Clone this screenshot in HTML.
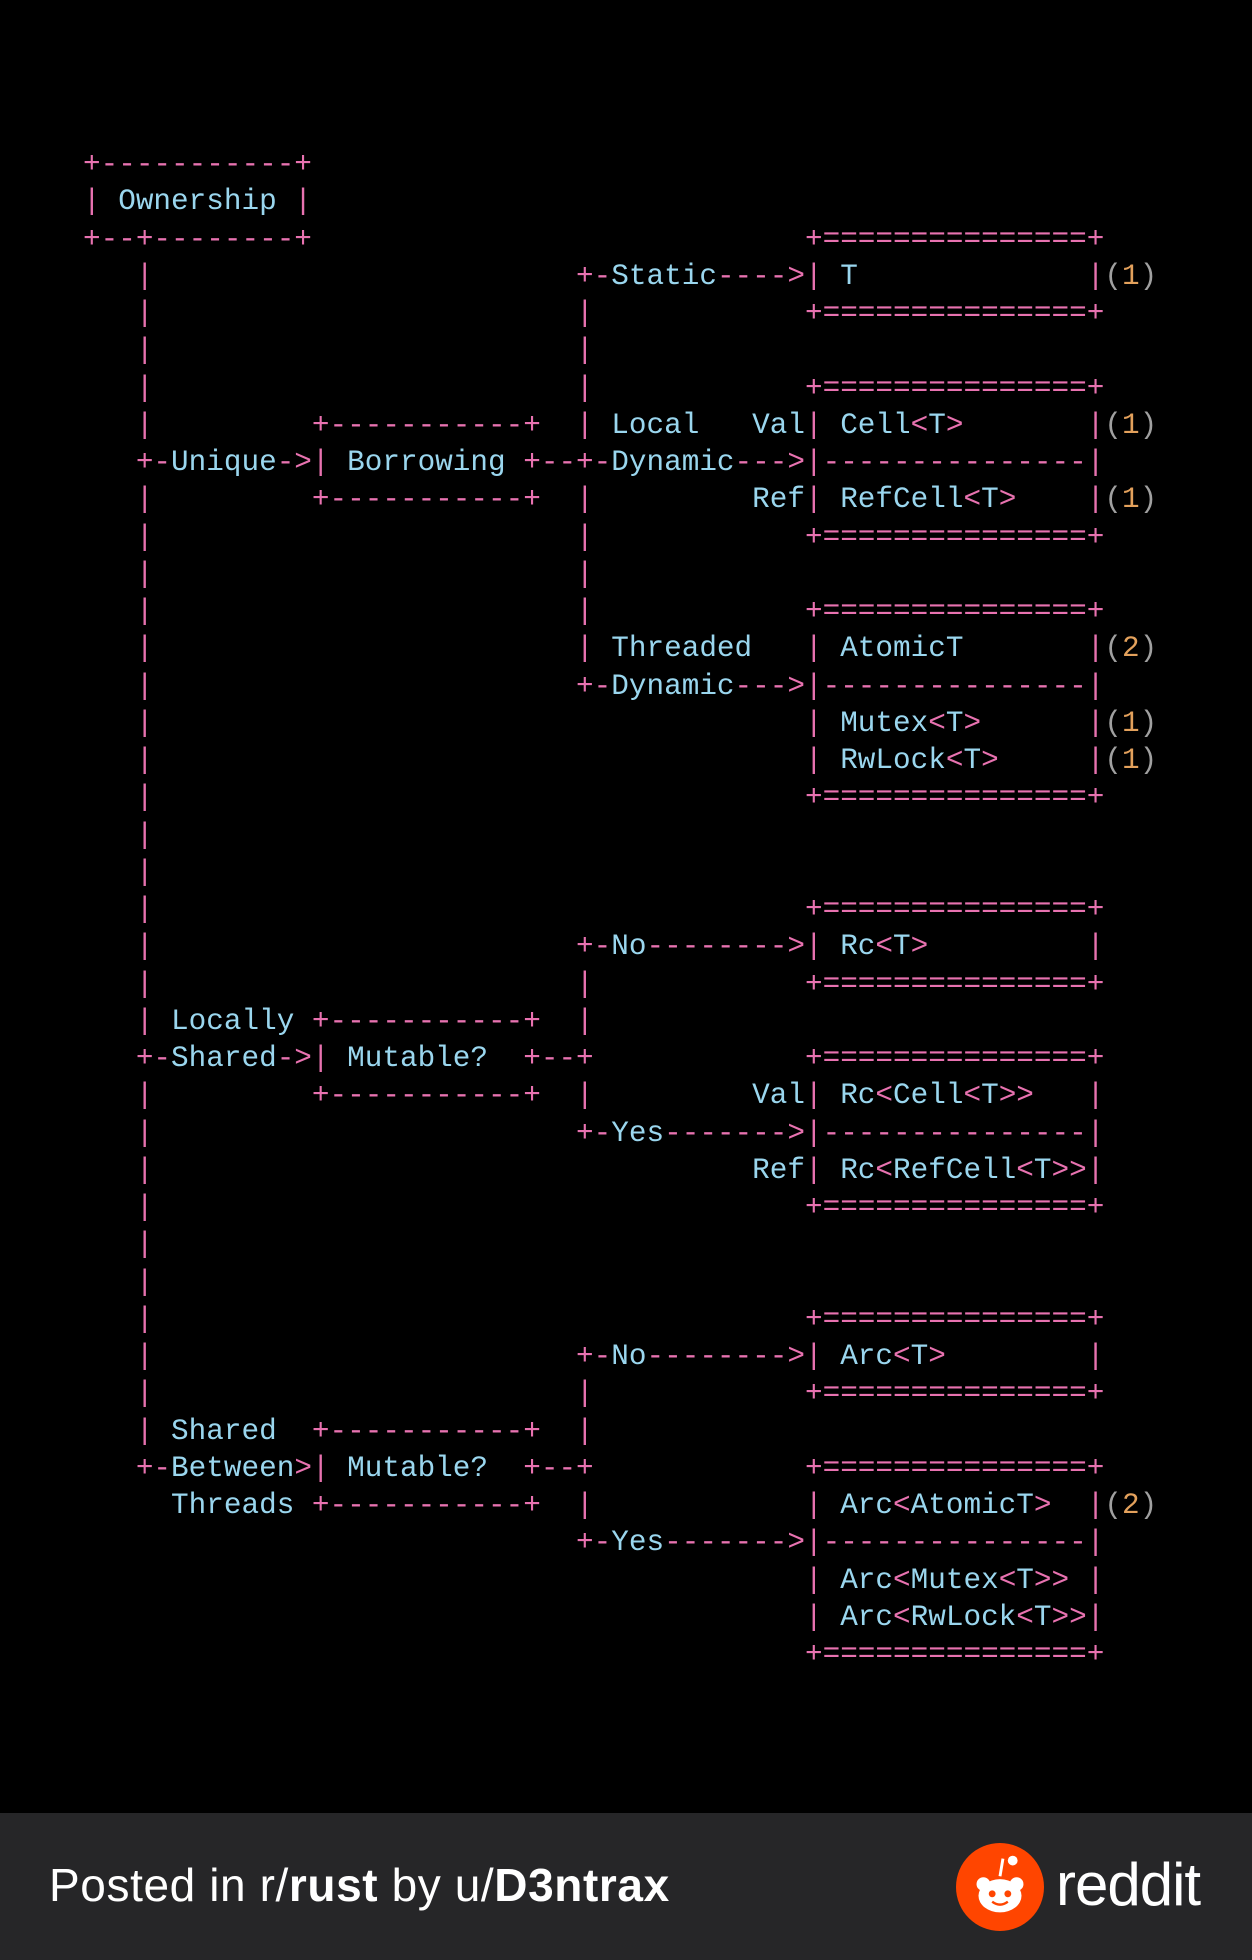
<!DOCTYPE html>
<html><head><meta charset="utf-8"><style>
html,body{margin:0;padding:0;background:#000;width:1252px;height:1960px;overflow:hidden;position:relative}
pre{position:absolute;left:83px;top:146px;margin:0;font-family:"Liberation Mono",monospace;font-size:29.35px;line-height:37.25px;color:#e872b0}
b{font-weight:normal;color:#9ad6ee}
i{font-style:normal;color:#a0a0a0}
u{text-decoration:none;color:#e3a15c}
.foot{position:absolute;left:0;top:1813px;width:1252px;height:147px;background:#262628}
.ft{position:absolute;left:49px;top:1858px;font-family:"Liberation Sans",sans-serif;font-size:46px;color:#fff;letter-spacing:0.6px}
.ft strong{font-weight:bold}
.logo{position:absolute;left:956px;top:1843px;width:88px;height:88px;border-radius:50%;background:#ff4500}
.rd{position:absolute;left:1056px;top:1850px;font-family:"Liberation Sans",sans-serif;font-size:60px;font-weight:normal;color:#fff;letter-spacing:-1px}
</style></head><body>
<pre>+-----------+
| <b>Ownership</b> |
+--+--------+                            +===============+
   |                        +-<b>Static</b>---->| <b>T</b>             |<i>(</i><u>1</u><i>)</i>
   |                        |            +===============+
   |                        |
   |                        |            +===============+
   |         +-----------+  | <b>Local</b>   <b>Val</b>| <b>Cell</b>&lt;<b>T</b>&gt;       |<i>(</i><u>1</u><i>)</i>
   +-<b>Unique</b>->| <b>Borrowing</b> +--+-<b>Dynamic</b>--->|---------------|
   |         +-----------+  |         <b>Ref</b>| <b>RefCell</b>&lt;<b>T</b>&gt;    |<i>(</i><u>1</u><i>)</i>
   |                        |            +===============+
   |                        |
   |                        |            +===============+
   |                        | <b>Threaded</b>   | <b>AtomicT</b>       |<i>(</i><u>2</u><i>)</i>
   |                        +-<b>Dynamic</b>--->|---------------|
   |                                     | <b>Mutex</b>&lt;<b>T</b>&gt;      |<i>(</i><u>1</u><i>)</i>
   |                                     | <b>RwLock</b>&lt;<b>T</b>&gt;     |<i>(</i><u>1</u><i>)</i>
   |                                     +===============+
   |
   |
   |                                     +===============+
   |                        +-<b>No</b>-------->| <b>Rc</b>&lt;<b>T</b>&gt;         |
   |                        |            +===============+
   | <b>Locally</b> +-----------+  |
   +-<b>Shared</b>->| <b>Mutable?</b>  +--+            +===============+
   |         +-----------+  |         <b>Val</b>| <b>Rc</b>&lt;<b>Cell</b>&lt;<b>T</b>&gt;&gt;   |
   |                        +-<b>Yes</b>------->|---------------|
   |                                  <b>Ref</b>| <b>Rc</b>&lt;<b>RefCell</b>&lt;<b>T</b>&gt;&gt;|
   |                                     +===============+
   |
   |
   |                                     +===============+
   |                        +-<b>No</b>-------->| <b>Arc</b>&lt;<b>T</b>&gt;        |
   |                        |            +===============+
   | <b>Shared</b>  +-----------+  |
   +-<b>Between</b>>| <b>Mutable?</b>  +--+            +===============+
     <b>Threads</b> +-----------+  |            | <b>Arc</b>&lt;<b>AtomicT</b>&gt;  |<i>(</i><u>2</u><i>)</i>
                            +-<b>Yes</b>------->|---------------|
                                         | <b>Arc</b>&lt;<b>Mutex</b>&lt;<b>T</b>&gt;&gt; |
                                         | <b>Arc</b>&lt;<b>RwLock</b>&lt;<b>T</b>&gt;&gt;|
                                         +===============+</pre>
<div class="foot"></div>
<div class="ft">Posted in r/<strong>rust</strong> by u/<strong>D3ntrax</strong></div>
<div class="logo"><svg width="88" height="88" viewBox="0 0 90 90">
<line x1="45" y1="34" x2="48" y2="16" stroke="#fff" stroke-width="3"/>
<circle cx="58" cy="18" r="5" fill="#fff"/>
<circle cx="28" cy="42" r="7" fill="#fff"/><circle cx="62" cy="42" r="7" fill="#fff"/>
<ellipse cx="45" cy="54" rx="22" ry="17" fill="#fff"/>
<circle cx="37" cy="52" r="3.5" fill="#ff4500"/><circle cx="53" cy="52" r="3.5" fill="#ff4500"/>
<path d="M37 60 Q45 66 53 60" stroke="#ff4500" stroke-width="2.5" fill="none"/>
</svg></div>
<div class="rd">reddit</div>
</body></html>
